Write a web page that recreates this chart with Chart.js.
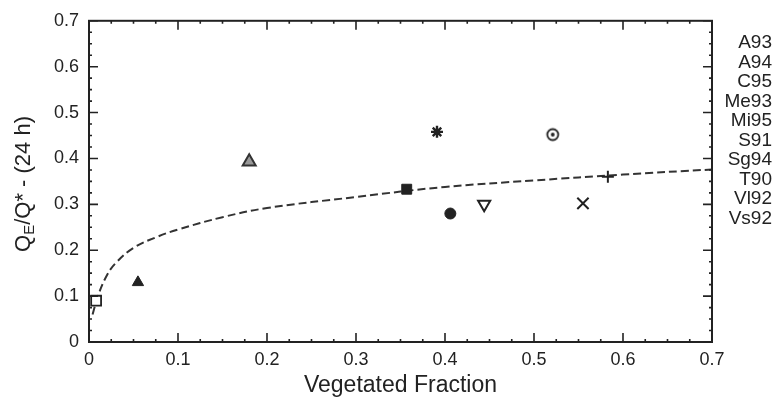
<!DOCTYPE html>
<html>
<head>
<meta charset="utf-8">
<script src="https://cdn.jsdelivr.net/npm/chart.js@4.4.1/dist/chart.umd.min.js"></script>
<style>
    html, body { margin: 0; padding: 0; background: #fff; }
    #wrap { position: relative; width: 775px; height: 403px; }
    #legend {
        position: absolute; right: 3px; top: 32px; text-align: right;
        font: 19px "Liberation Sans", Arial, sans-serif; line-height: 19.5px; color: #222;
    }
</style>
</head>
<body>
<div id="wrap">
    <canvas id="myChart" width="775" height="403"></canvas>
    <div id="legend"></div>
</div>
<script>
// site codes shown at the right
const siteLabels = ["A93", "A94", "C95", "Me93", "Mi95", "S91", "Sg94", "T90", "Vl92", "Vs92"];
// one point per site
const vegFraction = [0.008, 0.055, 0.18, 0.357, 0.391, 0.406, 0.444, 0.521, 0.555, 0.583];
const qeRatio = [0.09, 0.13, 0.393, 0.333, 0.458, 0.28, 0.30, 0.452, 0.302, 0.36];
// dashed fit curve
const fitX = [0.004, 0.01, 0.02, 0.03, 0.05, 0.075, 0.1, 0.15, 0.2, 0.3, 0.4, 0.5, 0.6, 0.7];
const fitY = [0.06, 0.10, 0.145, 0.172, 0.205, 0.228, 0.245, 0.272, 0.292, 0.316, 0.338, 0.352, 0.365, 0.376];
// axis ticks (same on both axes)
const tickValues = [0, 0.1, 0.2, 0.3, 0.4, 0.5, 0.6, 0.7];

const ink = "#222";
const fontFamily = '"Liberation Sans", Arial, sans-serif';
Chart.defaults.font.family = fontFamily;
Chart.defaults.color = ink;

// circle with a dot in the middle
const dotCircle = document.createElement("canvas");
dotCircle.width = 16;
dotCircle.height = 16;
(function () {
    const c = dotCircle.getContext("2d");
    c.strokeStyle = ink;
    c.lineWidth = 1.8;
    c.beginPath();
    c.arc(8, 8, 5.5, 0, Math.PI * 2);
    c.stroke();
    c.fillStyle = ink;
    c.beginPath();
    c.arc(8, 8, 1.9, 0, Math.PI * 2);
    c.fill();
})();

// marker look per site
const markers = [
    { pointStyle: "rect", radius: 7, bg: "#fff", border: ink, width: 1.8, rotation: 0 },
    { pointStyle: "triangle", radius: 6.5, bg: ink, border: ink, width: 1, rotation: 0 },
    { pointStyle: "triangle", radius: 7.5, bg: "#999", border: "#333", width: 2, rotation: 0 },
    { pointStyle: "rect", radius: 7, bg: ink, border: ink, width: 1, rotation: 0 },
    { pointStyle: "star", radius: 6, bg: ink, border: ink, width: 2.4, rotation: 0 },
    { pointStyle: "circle", radius: 5.5, bg: ink, border: ink, width: 1, rotation: 0 },
    { pointStyle: "triangle", radius: 7, bg: "#fff", border: ink, width: 2, rotation: 180 },
    { pointStyle: dotCircle, radius: 8, bg: ink, border: ink, width: 1, rotation: 0 },
    { pointStyle: "crossRot", radius: 8, bg: ink, border: ink, width: 2, rotation: 0 },
    { pointStyle: "cross", radius: 6, bg: ink, border: ink, width: 2, rotation: 0 }
];

const siteSets = siteLabels.map(function (label, i) {
    return {
        label: label,
        data: [{ x: vegFraction[i], y: qeRatio[i] }],
        pointStyle: markers[i].pointStyle,
        pointRadius: markers[i].radius,
        pointBackgroundColor: markers[i].bg,
        pointBorderColor: markers[i].border,
        pointBorderWidth: markers[i].width,
        pointRotation: markers[i].rotation,
        showLine: false,
        order: 1
    };
});

const fitSet = {
    label: "fit",
    data: fitX.map(function (x, i) { return { x: x, y: fitY[i] }; }),
    showLine: true,
    pointRadius: 0,
    borderColor: "#333",
    borderWidth: 2,
    borderDash: [8, 4],
    tension: 0.4,
    order: 2
};

// box round the plot, with inward ticks on all four sides,
// and the y title with its subscript
const framePlugin = {
    id: "frame",
    afterDraw: function (chart) {
        const c = chart.ctx;
        const a = chart.chartArea;
        const xs = chart.scales.x;
        const ys = chart.scales.y;
        c.save();
        c.strokeStyle = ink;
        c.lineWidth = 2;
        c.strokeRect(a.left, a.top, a.right - a.left, a.bottom - a.top);

        c.lineWidth = 1.6;
        c.beginPath();
        for (let v = 0; v <= 0.7001; v += 0.025) {
            const major = Math.abs(v * 10 - Math.round(v * 10)) < 1e-6;
            const len = major ? 9 : 3;
            const px = xs.getPixelForValue(v);
            const py = ys.getPixelForValue(v);
            c.moveTo(px, a.bottom); c.lineTo(px, a.bottom - len);
            c.moveTo(px, a.top); c.lineTo(px, a.top + len);
            c.moveTo(a.left, py); c.lineTo(a.left + len, py);
            c.moveTo(a.right, py); c.lineTo(a.right - len, py);
        }
        c.stroke();

        // y title: Q_E/Q* - (24 h)
        const big = "22px " + fontFamily;
        const small = "15px " + fontFamily;
        c.fillStyle = ink;
        c.textBaseline = "middle";
        c.textAlign = "left";
        c.font = big;
        const wQ = c.measureText("Q").width;
        const wRest = c.measureText("/Q* - (24 h)").width;
        c.font = small;
        const wE = c.measureText("E").width;
        const total = wQ + wE + wRest;
        c.translate(24, 184);
        c.rotate(-Math.PI / 2);
        let x = -total / 2;
        c.font = big;
        c.fillText("Q", x, 0);
        x += wQ;
        c.font = small;
        c.fillText("E", x, 6);
        x += wE;
        c.font = big;
        c.fillText("/Q* - (24 h)", x, 0);
        c.restore();
    }
};

function tickText(value) {
    return value === 0 ? "0" : value.toFixed(1);
}

const ctx = document.getElementById("myChart");

new Chart(ctx, {
    type: "scatter",
    data: { datasets: [fitSet].concat(siteSets) },
    options: {
        responsive: false,
        animation: false,
        layout: { padding: { top: 18, right: 63, left: 0, bottom: 0 } },
        plugins: {
            legend: { display: false },
            tooltip: { enabled: false }
        },
        scales: {
            x: {
                type: "linear",
                min: 0,
                max: 0.7,
                afterBuildTicks: function (scale) {
                    scale.ticks = tickValues.map(function (v) { return { value: v }; });
                },
                afterFit: function (scale) { scale.height = 61; },
                grid: { display: false, drawTicks: false },
                border: { display: false },
                ticks: {
                    padding: 7,
                    font: { size: 18 },
                    color: ink,
                    callback: tickText
                },
                title: {
                    display: true,
                    text: "Vegetated Fraction",
                    font: { size: 23 },
                    color: ink,
                    padding: { top: 0, bottom: 4 }
                }
            },
            y: {
                type: "linear",
                min: 0,
                max: 0.7,
                afterBuildTicks: function (scale) {
                    scale.ticks = tickValues.map(function (v) { return { value: v }; });
                },
                afterFit: function (scale) { scale.width = 89; },
                grid: { display: false, drawTicks: false },
                border: { display: false },
                ticks: {
                    padding: 10,
                    font: { size: 18 },
                    color: ink,
                    callback: tickText
                },
                title: { display: false }
            }
        }
    },
    plugins: [framePlugin]
});

// site list at the right
document.getElementById("legend").innerHTML = siteLabels.join("<br>");
</script>
</body>
</html>
